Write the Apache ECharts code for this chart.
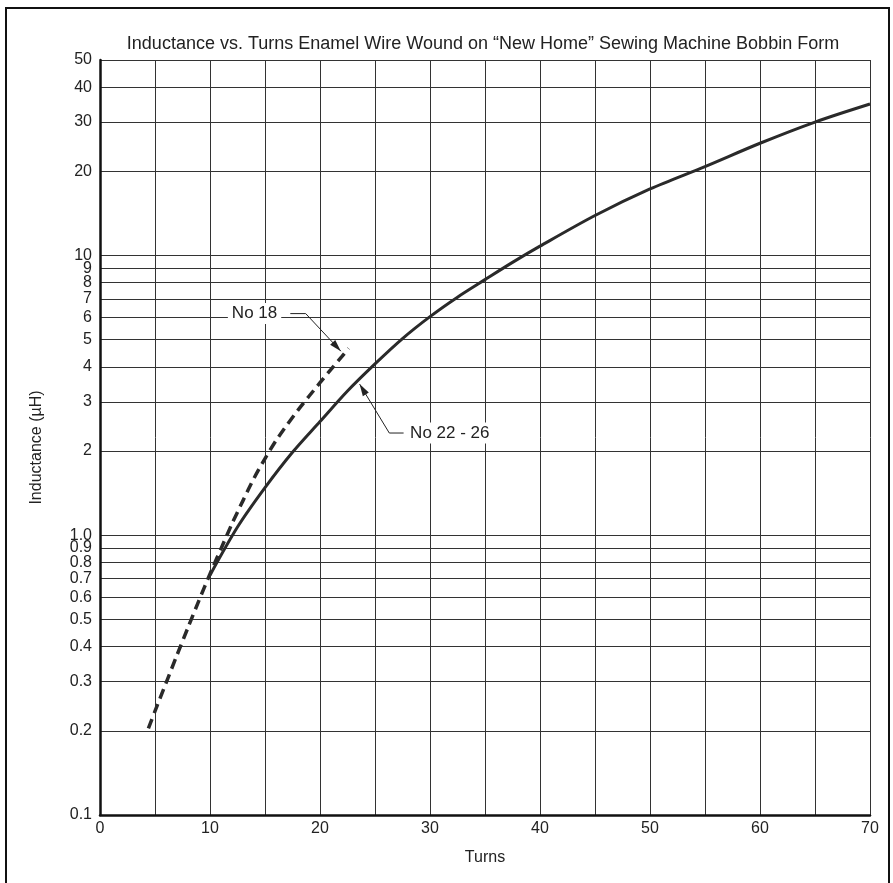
<!DOCTYPE html>
<html>
<head>
<meta charset="utf-8">
<title>Inductance vs. Turns</title>
<script src="https://cdn.jsdelivr.net/npm/echarts@6/dist/echarts.min.js"></script>
<style>
  html, body { margin: 0; padding: 0; background: #fff; }
  #chart { width: 893px; height: 883px; }
</style>
</head>
<body>
<div id="chart"></div>
<script>
// 数据
const turns18 = [4.4, 5, 6, 7, 8, 9, 10, 11, 12, 13, 14, 15, 16, 17, 18, 19, 20, 21, 22, 22.6];
const induct18 = [0.204, 0.235, 0.296, 0.373, 0.468, 0.585, 0.728, 0.895, 1.1, 1.33, 1.6, 1.88, 2.18, 2.48, 2.8, 3.14, 3.51, 3.92, 4.36, 4.66];

const turns22 = [10, 12.5, 15, 17.5, 20, 22.5, 25, 27.5, 30, 32.5, 35, 37.5, 40, 45, 50, 55, 60, 65, 70];
const induct22 = [0.72, 1.07, 1.48, 1.98, 2.55, 3.28, 4.1, 5.05, 6.05, 7.1, 8.2, 9.45, 10.8, 13.9, 17.3, 20.8, 25.2, 30, 34.8];

const yTicks = [0.1, 0.2, 0.3, 0.4, 0.5, 0.6, 0.7, 0.8, 0.9, 1, 2, 3, 4, 5, 6, 7, 8, 9, 10, 20, 30, 40, 50];
const xTicks = [0, 10, 20, 30, 40, 50, 60, 70];

const font = 'Liberation Sans, Arial, Helvetica, sans-serif';
const ink = '#222';

function pairs(xs, ys) {
    return xs.map((x, i) => [x, ys[i]]);
}

// y轴标签格式
function fmtY(v) {
    const r = Math.round(v * 10) / 10;
    if (r < 1) return r.toFixed(1);
    if (r === 1) return '1.0';
    return String(Math.round(r));
}

const chart = echarts.init(document.getElementById('chart'));

const option = {
    backgroundColor: '#fff',
    animation: false,
    title: {
        text: 'Inductance vs. Turns Enamel Wire Wound on \u201cNew Home\u201d Sewing Machine Bobbin Form',
        left: 478,
        top: 30,
        textAlign: 'center',
        textStyle: { fontFamily: font, fontSize: 18, fontWeight: 'normal', color: ink }
    },
    grid: { left: 100, right: 23, top: 60, bottom: 68 },
    xAxis: {
        type: 'value',
        min: 0,
        max: 70,
        interval: 5,
        name: 'Turns',
        nameLocation: 'middle',
        nameGap: 35,
        nameTextStyle: { fontFamily: font, fontSize: 16, color: ink },
        axisLine: { show: true, onZero: false, lineStyle: { color: '#111', width: 2.5 } },
        axisTick: { show: false },
        axisLabel: {
            fontFamily: font, fontSize: 16, color: ink, margin: 6,
            formatter: v => (xTicks.includes(v) ? String(v) : '')
        },
        splitLine: { show: true, lineStyle: { color: '#333', width: 1 } }
    },
    yAxis: {
        type: 'log',
        logBase: 10,
        min: 0.1,
        max: 50,
        name: 'Inductance (\u00b5H)',
        nameLocation: 'middle',
        nameGap: 55,
        nameTextStyle: { fontFamily: font, fontSize: 16, color: ink, padding: [0, 20, 0, 0] },
        axisLine: { show: true, lineStyle: { color: '#111', width: 2.5 } },
        axisTick: { show: false, customValues: yTicks },
        axisLabel: {
            fontFamily: font, fontSize: 16, color: ink, margin: 8,
            customValues: yTicks,
            formatter: fmtY
        },
        splitLine: { show: true, lineStyle: { color: '#333', width: 1 } }
    },
    series: [
        {
            name: 'No 18',
            type: 'line',
            data: pairs(turns18, induct18),
            smooth: 0.25,
            showSymbol: false,
            lineStyle: { color: '#2a2a2a', width: 3.5, type: [10, 6] },
            z: 5
        },
        {
            name: 'No 22 - 26',
            type: 'line',
            data: pairs(turns22, induct22),
            smooth: 0.3,
            showSymbol: false,
            lineStyle: { color: '#2a2a2a', width: 3 },
            z: 6
        }
    ]
};

chart.setOption(option);

// 注释: 标签和引线 (数据坐标)
function px(p) {
    return chart.convertToPixel({ xAxisIndex: 0, yAxisIndex: 0 }, p);
}

const label18 = px([14.05, 6.2]);
const lead18 = [px([17.3, 6.2]), px([18.7, 6.2]), px([21.9, 4.55])];
const label22 = px([31.8, 2.32]);
const lead22 = [px([27.6, 2.32]), px([26.3, 2.32]), px([23.6, 3.47])];

function arrowHead(tip, from) {
    const ang = Math.atan2(tip[1] - from[1], tip[0] - from[0]);
    const len = 12, half = 3.5;
    const bx = tip[0] - len * Math.cos(ang), by = tip[1] - len * Math.sin(ang);
    return {
        type: 'polygon',
        shape: {
            points: [
                tip,
                [bx + half * Math.sin(ang), by - half * Math.cos(ang)],
                [bx - half * Math.sin(ang), by + half * Math.cos(ang)]
            ]
        },
        style: { fill: '#222' },
        z: 20
    };
}

function labelBox(pos, text) {
    return {
        type: 'text',
        x: pos[0],
        y: pos[1],
        style: {
            text: text,
            font: '17px ' + font,
            fill: ink,
            align: 'center',
            verticalAlign: 'middle',
            backgroundColor: '#fff',
            padding: [2, 4]
        },
        z: 20
    };
}

chart.setOption({
    graphic: [
        // 外框
        {
            type: 'rect',
            shape: { x: 6, y: 8, width: 883, height: 900 },
            style: { fill: 'none', stroke: '#111', lineWidth: 2 },
            silent: true,
            z: 1
        },
        labelBox(label18, 'No 18'),
        { type: 'polyline', shape: { points: lead18 }, style: { stroke: '#222', lineWidth: 1, fill: 'none' }, z: 20 },
        arrowHead(lead18[2], lead18[1]),
        labelBox(label22, 'No 22 - 26'),
        { type: 'polyline', shape: { points: lead22 }, style: { stroke: '#222', lineWidth: 1, fill: 'none' }, z: 20 },
        arrowHead(lead22[2], lead22[1])
    ]
});
</script>
</body>
</html>
